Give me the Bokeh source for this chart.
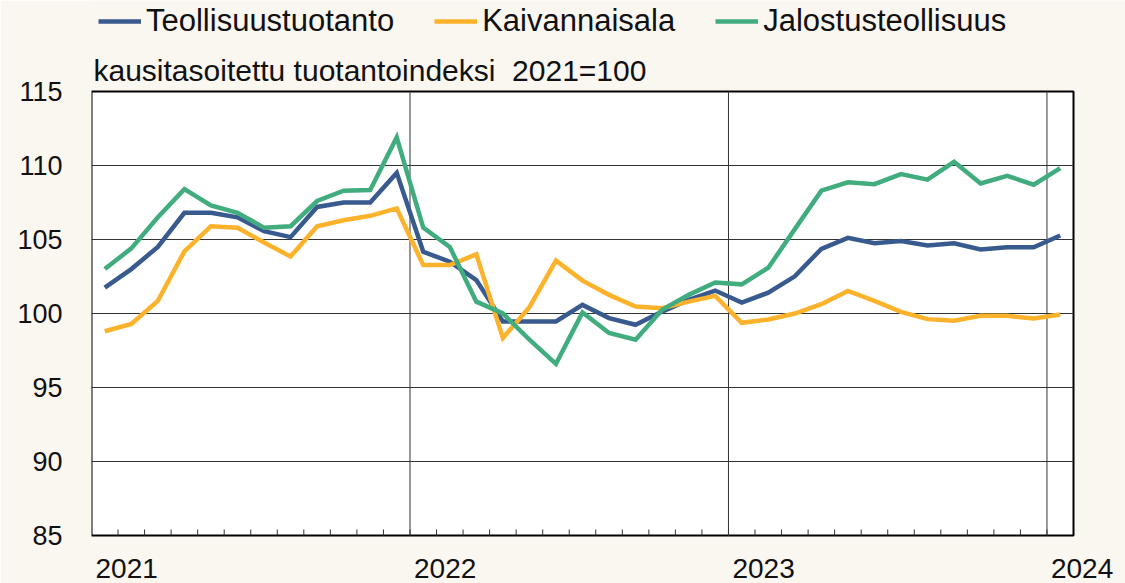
from bokeh.plotting import figure
from bokeh.models import Range1d, FixedTicker, Legend, LegendItem, Label
from bokeh.embed import file_html
from bokeh.resources import INLINE

# ---- data (monthly, Jan 2021 .. Jan 2024) ----
years = ["2021", "2022", "2023", "2024"]
month_index = list(range(37))
teollisuustuotanto = [101.75, 103.0, 104.5, 106.8, 106.8, 106.5, 105.56, 105.16, 107.2, 107.5, 107.5, 109.5,
                      104.17, 103.5, 102.26, 99.46, 99.46, 99.46, 100.58, 99.69, 99.24, 100.13, 100.92, 101.55,
                      100.74, 101.41, 102.51, 104.37, 105.11, 104.75, 104.89, 104.6, 104.75, 104.33, 104.48, 104.48,
                      105.27]
kaivannaisala = [98.8, 99.3, 100.85, 104.2, 105.9, 105.8, 104.8, 103.85, 105.9, 106.3, 106.6, 107.1,
                 103.27, 103.27, 104.0, 98.34, 100.43, 103.57, 102.22, 101.26, 100.47, 100.36, 100.8, 101.19,
                 99.37, 99.6, 100.0, 100.63, 101.52, 100.85, 100.11, 99.62, 99.51, 99.84, 99.84, 99.66,
                 99.93]
jalostusteollisuus = [103.0, 104.4, 106.5, 108.4, 107.3, 106.8, 105.8, 105.9, 107.6, 108.3, 108.35, 111.9,
                      105.8, 104.5, 100.8, 100.0, 98.23, 96.6, 100.07, 98.68, 98.23, 100.25, 101.26, 102.09,
                      101.97, 103.09, 105.7, 108.3, 108.86, 108.74, 109.42, 109.04, 110.25, 108.79, 109.3, 108.7,
                      109.82]
y_ticks = [85, 90, 95, 100, 105, 110, 115]
subtitle = "kausitasoitettu tuotantoindeksi \u00a02021=100"
series_names = ["Teollisuustuotanto", "Kaivannaisala", "Jalostusteollisuus"]
series_colors = ["#385a8f", "#fdb22c", "#41ad7f"]

BG = "#faf6f0"
FONT = "Liberation Sans"
TOP_PX = 91          # header space above the plot box (legend + subtitle)
BOX_PX = 444         # height of the plot box
BOTTOM_PX = 48       # space below the plot box (year labels)
BOX_W = 982          # width of the plot box
RIGHT_PX = 52        # space right of the plot box (room for the last year label)

n = len(month_index)
y_lo, y_hi = y_ticks[0], y_ticks[-1]
unit = (y_hi - y_lo) / BOX_PX                     # data units per pixel (y)
y_top = y_hi + TOP_PX * unit
y_bot = y_lo - BOTTOM_PX * unit
x_end = n + RIGHT_PX * n / BOX_W
x = [m + 0.5 for m in month_index]

p = figure(width=1125, height=583, output_backend="svg", toolbar_location=None, title=None,
           x_range=Range1d(0, x_end), y_range=Range1d(y_bot, y_top),
           min_border_left=91, min_border_right=0, min_border_top=0, min_border_bottom=0)
p.background_fill_color = BG
p.border_fill_color = BG
p.outline_line_color = None
p.xgrid.visible = False
p.ygrid.visible = False
p.xaxis.visible = False

# plot box (white area with black frame)
p.quad(left=[0], right=[n], bottom=[y_lo], top=[y_hi], fill_color="white",
       line_color="black", line_width=2)
# horizontal grid lines
grid_y = y_ticks[1:-1]
p.segment(x0=[0] * len(grid_y), x1=[n] * len(grid_y), y0=grid_y, y1=grid_y,
          line_color="#333333", line_width=1)
# year separator lines
year_x = [12 * k for k in range(1, len(years))]
p.segment(x0=year_x, x1=year_x, y0=[y_lo] * len(year_x), y1=[y_hi] * len(year_x),
          line_color="#333333", line_width=1)
# monthly tick marks on the bottom edge (pointing inward)
tick_x = list(range(1, n))
p.segment(x0=tick_x, x1=tick_x, y0=[y_lo] * len(tick_x), y1=[y_lo + 6 * unit] * len(tick_x),
          line_color="#333333", line_width=1)

# y axis
p.yaxis.ticker = FixedTicker(ticks=y_ticks)
p.yaxis.major_tick_in = 0
p.yaxis.major_tick_out = 0
p.yaxis.minor_tick_line_color = None
p.yaxis.axis_line_color = None
p.yaxis.major_label_standoff = 29
p.yaxis.major_label_text_font = FONT
p.yaxis.major_label_text_font_size = "27px"
p.yaxis.major_label_text_color = "#111111"

renderers = []
for vals, col in zip([teollisuustuotanto, kaivannaisala, jalostusteollisuus], series_colors):
    r = p.line(x, vals, line_color=col, line_width=4.5, line_join="miter")
    renderers.append(r)

# subtitle above the plot box
p.add_layout(Label(x=0, y=y_hi, x_units="data", y_units="data", text=subtitle,
                   x_offset=2, y_offset=21, text_baseline="middle", text_align="left",
                   text_font=FONT, text_font_size="30px", text_color="#111111"))

# year labels below the plot box, starting at each year boundary
for k, yr in enumerate(years):
    p.add_layout(Label(x=12 * k, y=y_lo, x_units="data", y_units="data", text=yr,
                       x_offset=4, y_offset=-33, text_baseline="middle", text_align="left",
                       text_font=FONT, text_font_size="28px", text_color="#111111"))

legend = Legend(items=[LegendItem(label=nm, renderers=[r]) for nm, r in zip(series_names, renderers)],
                orientation="horizontal", location=(7, 496 + BOTTOM_PX),
                glyph_width=43, glyph_height=20, label_standoff=5, spacing=40,
                padding=0, margin=0, border_line_alpha=0, background_fill_alpha=0,
                label_text_font=FONT, label_text_font_size="31px", label_text_color="#111111")
p.add_layout(legend, "center")

html = file_html(p, INLINE)
html = html.replace("<body>", '<body style="background-color:%s;">' % BG, 1)
open("out.html", "w").write(html)
